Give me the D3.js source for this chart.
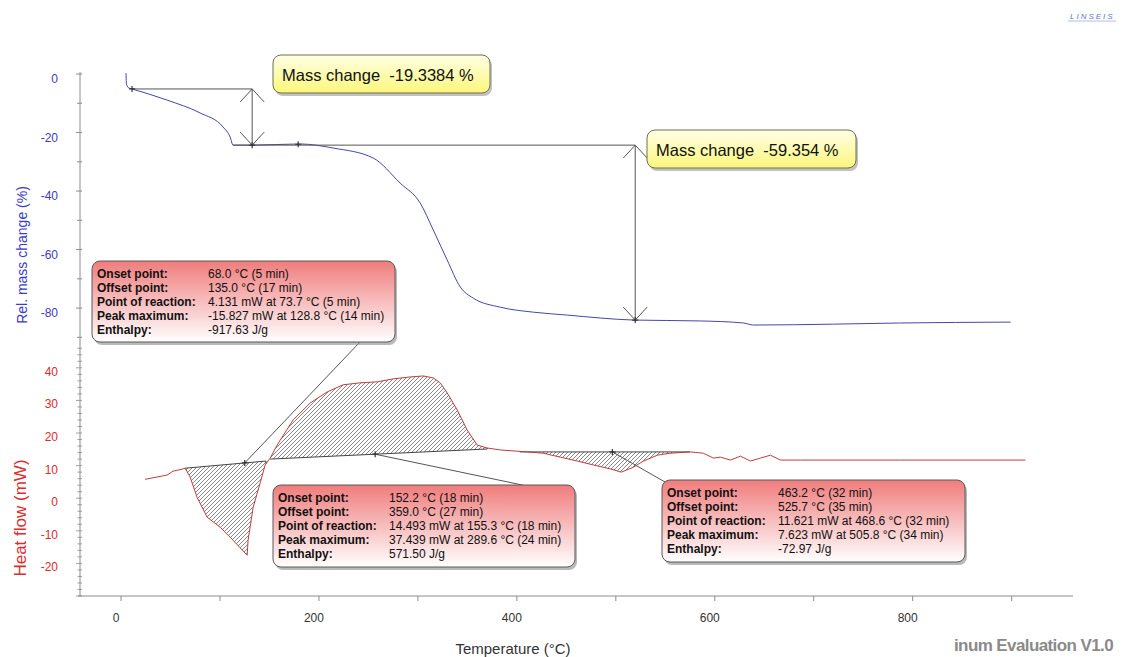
<!DOCTYPE html>
<html>
<head>
<meta charset="utf-8">
<title>TGA / DSC evaluation</title>
<style>
  body { margin: 0; background: #fff; }
  text { font-family: "Liberation Sans", Arial, sans-serif; }
</style>
</head>
<body>
<svg></svg>
<script src="https://d3js.org/d3.v7.min.js"></script>
<script>
// ---- data ----
var tgaTemp = [5, 5.5, 8, 11.1, 46.5, 79.9, 103.1, 110.2, 113.2, 132.5, 181, 214.4, 254.8, 282.1, 302.3, 315.5, 329.6, 342.8, 355.9, 383.2, 416.6, 451, 484.3, 517.7, 585.4, 628.9, 639, 719.9, 787.7, 898.9];
var tgaMass = [0.3, -3.5, -4.8, -5.1, -8.9, -13.3, -18.1, -21.5, -24.3, -24.3, -23.9, -25.3, -28.7, -37.3, -44.1, -53.3, -63.6, -72.8, -76.6, -79.7, -81.4, -82.4, -83.4, -84.1, -84.4, -85.1, -85.8, -85.5, -85.1, -84.8];

var dscTemp = [24.3, 46.5, 52.6, 61.7, 64.7, 69.8, 76.8, 87, 100.1, 113.2, 127.4, 128.4, 133.5, 140.5, 145.6, 150.7, 156.7, 160.8, 173.9, 191.1, 208.3, 224.5, 241.7, 258.8, 275, 292.2, 305.4, 315.5, 322.5, 329.6, 339.7, 349.8, 360, 370.1, 383.2, 410.5, 426.7, 443.9, 461.1, 477.3, 494.4, 505.5, 517.7, 527.8, 542, 555.1, 575.3, 588.5, 598.6, 605.7, 615.8, 625.9, 636, 646.1, 656.2, 666.3, 686.6, 787.7, 914];
var dscHeat = [5.8, 7.1, 8.3, 8.9, 9.2, 6.5, 0.3, -5.8, -8.9, -12.9, -17.5, -12.9, -2.8, 4.6, 10.2, 12.3, 15.7, 17.8, 24, 29.2, 32.6, 34.8, 35.4, 35.7, 36.6, 37.2, 37.5, 36.9, 35.4, 32.3, 27.1, 20.9, 16.3, 15.4, 14.8, 14.2, 13.8, 12.6, 11.4, 10.2, 9.0, 8.0, 9.5, 11.4, 13.2, 13.8, 14.2, 13.8, 12.3, 12.6, 11.7, 12.9, 11.4, 12.3, 13.2, 11.7, 11.7, 11.7, 11.7];

// mass change steps
var stepTemp = [132.5, 519.6];
var stepTop = [-5.1, -24.3];
var stepBottom = [-24.3, -84.1];
var stepLabels = ["Mass change  -19.3384 %", "Mass change  -59.354 %"];

// DSC peak integration baselines
var peakStart = [64.7, 150.7, 403];
var peakEnd = [146.5, 370.1, 575];
var baseStart = [9.2, 12.0, 14.2];
var baseEnd = [11.4, 15.1, 14.2];
var markerTemp = [125, 256.8, 496.5];

var infoLabels = ["Onset point:", "Offset point:", "Point of reaction:", "Peak maximum:", "Enthalpy:"];
var infoValues = [
  ["68.0 °C (5 min)", "135.0 °C (17 min)", "4.131 mW at 73.7 °C (5 min)", "-15.827 mW at 128.8 °C (14 min)", "-917.63 J/g"],
  ["152.2 °C (18 min)", "359.0 °C (27 min)", "14.493 mW at 155.3 °C (18 min)", "37.439 mW at 289.6 °C (24 min)", "571.50 J/g"],
  ["463.2 °C (32 min)", "525.7 °C (35 min)", "11.621 mW at 468.6 °C (32 min)", "7.623 mW at 505.8 °C (34 min)", "-72.97 J/g"]
];

var massTicks = [0, -20, -40, -60, -80];
var heatTicks = [40, 30, 20, 10, 0, -10, -20];
var tempTicks = [0, 200, 400, 600, 800];

// ---- canvas ----
var width = 1127, height = 657;
var svg = d3.select("svg").attr("width", width).attr("height", height);
svg.append("rect").attr("width", width).attr("height", height).attr("fill", "#fff");

var x = d3.scaleLinear().domain([-43.5, 962]).range([78, 1073]);
var yM = d3.scaleLinear().domain([0.7, -91.6]).range([72, 342]);
var yQ = d3.scaleLinear().domain([47, -30]).range([345, 596]);

var blue = "#3b3bc4", red = "#dc2c2c", axisCol = "#8c8c8c";

var defs = svg.append("defs");
var pat = defs.append("pattern").attr("id", "hatch").attr("patternUnits", "userSpaceOnUse")
  .attr("width", 4).attr("height", 4);
pat.append("path").attr("d", "M-1,1 l2,-2 M0,4 l4,-4 M3,5 l2,-2")
  .attr("stroke", "#555").attr("stroke-width", 0.7);

var gRed = defs.append("linearGradient").attr("id", "redGrad").attr("x1", 0).attr("y1", 0).attr("x2", 0).attr("y2", 1);
gRed.append("stop").attr("offset", "0%").attr("stop-color", "#f07c7c");
gRed.append("stop").attr("offset", "55%").attr("stop-color", "#f8c4c4");
gRed.append("stop").attr("offset", "100%").attr("stop-color", "#ffffff");
var gYel = defs.append("linearGradient").attr("id", "yelGrad").attr("x1", 0).attr("y1", 0).attr("x2", 0).attr("y2", 1);
gYel.append("stop").attr("offset", "0%").attr("stop-color", "#ffffe6");
gYel.append("stop").attr("offset", "100%").attr("stop-color", "#fbf77a");

// ---- axes ----
var ax = svg.append("g");
ax.append("line").attr("x1", 80).attr("x2", 80).attr("y1", 72).attr("y2", 596).attr("stroke", axisCol);
ax.append("line").attr("x1", 78).attr("x2", 1073).attr("y1", 596).attr("y2", 596).attr("stroke", axisCol);

// mass axis ticks
d3.range(0, -91, -10).forEach(function (v) {
  var major = v % 20 === 0;
  ax.append("line").attr("x1", major ? 76 : 77).attr("x2", 82)
    .attr("y1", yM(v)).attr("y2", yM(v)).attr("stroke", axisCol);
});
ax.selectAll(".mlab").data(massTicks).enter().append("text")
  .attr("x", 58).attr("y", function (d) { return yM(d) + 9; })
  .attr("text-anchor", "end").attr("fill", blue).style("font-size", "12px")
  .text(function (d) { return d; });

// heat axis ticks
d3.range(46, -31, -2).forEach(function (v) {
  var major = v % 10 === 0;
  ax.append("line").attr("x1", major ? 76 : 77.5).attr("x2", 82)
    .attr("y1", yQ(v)).attr("y2", yQ(v)).attr("stroke", axisCol).attr("stroke-width", 0.8);
});
ax.selectAll(".qlab").data(heatTicks).enter().append("text")
  .attr("x", 58).attr("y", function (d) { return yQ(d) + 8; })
  .attr("text-anchor", "end").attr("fill", red).style("font-size", "12px")
  .text(function (d) { return d; });

// temperature axis
d3.range(0, 901, 100).forEach(function (v) {
  ax.append("line").attr("x1", x(v)).attr("x2", x(v)).attr("y1", 596).attr("y2", 601).attr("stroke", axisCol);
});
ax.selectAll(".tlab").data(tempTicks).enter().append("text")
  .attr("x", function (d) { return x(d) - 5; }).attr("y", 622)
  .attr("text-anchor", "middle").attr("fill", "#333").style("font-size", "12px")
  .text(function (d) { return d; });

svg.append("text").attr("transform", "translate(27,255) rotate(-90)")
  .attr("text-anchor", "middle").attr("fill", blue).style("font-size", "14px")
  .text("Rel. mass change (%)");
svg.append("text").attr("transform", "translate(26,518) rotate(-90)")
  .attr("text-anchor", "middle").attr("fill", red).style("font-size", "17px")
  .text("Heat flow (mW)");
svg.append("text").attr("x", 513).attr("y", 654).attr("text-anchor", "middle")
  .attr("fill", "#333").style("font-size", "15px").text("Temperature (°C)");
svg.append("text").attr("x", 1113).attr("y", 651).attr("text-anchor", "end")
  .attr("fill", "#8a8a8a").style("font-size", "17px").style("font-weight", "bold")
  .style("letter-spacing", "-0.6px").text("inum Evaluation V1.0");
svg.append("text").attr("x", 1070).attr("y", 19).attr("fill", "#5a7bd0")
  .style("font-size", "8px").style("font-style", "italic").style("letter-spacing", "2px")
  .text("LINSEIS");
svg.append("line").attr("x1", 1068).attr("x2", 1116).attr("y1", 21).attr("y2", 21)
  .attr("stroke", "#9ab0e0").attr("stroke-width", 0.8);

// ---- DSC hatched peaks ----
var dscPts = dscTemp.map(function (t, i) { return [t, dscHeat[i]]; });
function heatAt(t) {
  for (var i = 1; i < dscPts.length; i++) {
    if (dscPts[i][0] >= t) {
      var a = dscPts[i - 1], b = dscPts[i];
      return a[1] + (b[1] - a[1]) * (t - a[0]) / (b[0] - a[0]);
    }
  }
  return dscPts[dscPts.length - 1][1];
}
function baseAt(k, t) {
  return baseStart[k] + (baseEnd[k] - baseStart[k]) * (t - peakStart[k]) / (peakEnd[k] - peakStart[k]);
}
var lineQ = d3.line().x(function (d) { return x(d[0]); }).y(function (d) { return yQ(d[1]); });

peakStart.forEach(function (s, k) {
  var e = peakEnd[k];
  var poly = [[s, heatAt(s)]];
  dscPts.forEach(function (p) { if (p[0] > s && p[0] < e) poly.push(p); });
  poly.push([e, heatAt(e)], [e, baseAt(k, e)], [s, baseAt(k, s)]);
  svg.append("path").attr("d", lineQ(poly) + "Z").attr("fill", "url(#hatch)").attr("stroke", "none");
  svg.append("line").attr("x1", x(s)).attr("y1", yQ(baseAt(k, s)))
    .attr("x2", x(e)).attr("y2", yQ(baseAt(k, e))).attr("stroke", "#444").attr("stroke-width", 1);
  svg.append("line").attr("x1", x(e)).attr("y1", yQ(baseAt(k, e)))
    .attr("x2", x(e)).attr("y2", yQ(heatAt(e))).attr("stroke", "#444").attr("stroke-width", 1);
});

svg.append("path").attr("d", lineQ(dscPts)).attr("fill", "none")
  .attr("stroke", "#c23c3c").attr("stroke-width", 1);

// ---- TGA curve ----
var lineM = d3.line().curve(d3.curveMonotoneX)
  .x(function (d) { return x(d[0]); }).y(function (d) { return yM(d[1]); });
svg.append("path").attr("d", lineM(tgaTemp.map(function (t, i) { return [t, tgaMass[i]]; })))
  .attr("fill", "none").attr("stroke", "#4646a8").attr("stroke-width", 1);

// ---- mass change annotations ----
var ann = svg.append("g").attr("stroke", "#555").attr("stroke-width", 1).attr("fill", "none");
ann.append("line").attr("x1", x(11)).attr("x2", x(stepTemp[0]))
  .attr("y1", yM(stepTop[0])).attr("y2", yM(stepTop[0]));
ann.append("line").attr("x1", x(113)).attr("x2", x(stepTemp[1]))
  .attr("y1", yM(stepTop[1])).attr("y2", yM(stepTop[1]));
stepTemp.forEach(function (t, i) {
  var px = x(t), y1 = yM(stepTop[i]), y2 = yM(stepBottom[i]);
  ann.append("line").attr("x1", px).attr("x2", px).attr("y1", y1).attr("y2", y2);
  ann.append("path").attr("d", "M" + (px - 12) + "," + (y1 + 13) + "L" + px + "," + y1 + "L" + (px + 12) + "," + (y1 + 13));
  ann.append("path").attr("d", "M" + (px - 12) + "," + (y2 - 13) + "L" + px + "," + y2 + "L" + (px + 12) + "," + (y2 - 13));
});

function cross(px, py) {
  svg.append("path").attr("d", "M" + (px - 3) + "," + py + "h6M" + px + "," + (py - 3) + "v6")
    .attr("stroke", "#333").attr("stroke-width", 1.2);
}
cross(x(11.1), yM(-5.1)); cross(x(132.5), yM(-24.3)); cross(x(179), yM(-24.0)); cross(x(519.6), yM(-84.1));

// yellow label boxes
var yBoxes = [[273, 55, 217, 38], [647, 130, 209, 38]];
yBoxes.forEach(function (b, i) {
  svg.append("rect").attr("x", b[0] + 2).attr("y", b[1] + 3).attr("width", b[2]).attr("height", b[3])
    .attr("rx", 8).attr("fill", "#9a9a9a").attr("opacity", 0.6);
  svg.append("rect").attr("x", b[0]).attr("y", b[1]).attr("width", b[2]).attr("height", b[3])
    .attr("rx", 8).attr("fill", "url(#yelGrad)").attr("stroke", "#6e6e50");
  svg.append("text").attr("x", b[0] + 9).attr("y", b[1] + 26).attr("fill", "#111")
    .style("font-size", "16.5px").style("white-space", "pre").text(stepLabels[i]);
});

// ---- DSC info boxes ----
var rBoxes = [[92, 261, 303, 81], [273, 485, 302, 82], [662, 480, 303, 82]];
var anchors = [[360, 342], [527, 486], [665, 482]];
rBoxes.forEach(function (b, k) {
  var mx = x(markerTemp[k]), my = yQ(baseAt(k, markerTemp[k]));
  svg.append("line").attr("x1", mx).attr("y1", my).attr("x2", anchors[k][0]).attr("y2", anchors[k][1])
    .attr("stroke", "#555").attr("stroke-width", 1);
  cross(mx, my);
  svg.append("rect").attr("x", b[0] + 2).attr("y", b[1] + 3).attr("width", b[2]).attr("height", b[3])
    .attr("rx", 8).attr("fill", "#8a8a8a").attr("opacity", 0.6);
  svg.append("rect").attr("x", b[0]).attr("y", b[1]).attr("width", b[2]).attr("height", b[3])
    .attr("rx", 8).attr("fill", "url(#redGrad)").attr("stroke", "#5a5a5a");
  infoLabels.forEach(function (lab, j) {
    var ty = b[1] + 17 + j * 14;
    svg.append("text").attr("x", b[0] + 5).attr("y", ty).attr("fill", "#111")
      .style("font-size", "12px").style("font-weight", "bold").text(lab);
    svg.append("text").attr("x", b[0] + 116).attr("y", ty).attr("fill", "#111")
      .style("font-size", "12px").text(infoValues[k][j]);
  });
});
</script>
</body>
</html>
